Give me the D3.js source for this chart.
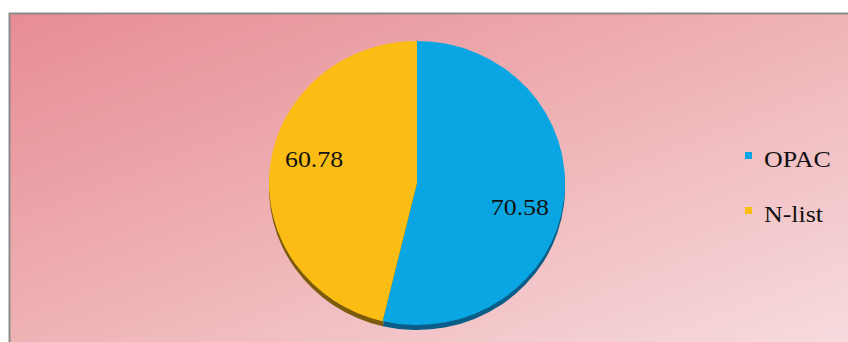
<!DOCTYPE html>
<html>
<head>
<meta charset="utf-8">
<script src="https://cdn.jsdelivr.net/npm/d3@7"></script>
<style>
  body { margin: 0; background: #fff; }
  svg { display: block; }
</style>
</head>
<body>
<svg id="chart" width="848" height="342"></svg>
<script>

// data
var categories = ["OPAC", "N-list"];
var values = [70.58, 60.78];
var sliceColors = ["#0aa6e3", "#fbbd13"];
var edgeColors = ["#0a5d86", "#7d5b0c"];

var width = 848, height = 342;
var svg = d3.select("#chart");
var serif = "Liberation Serif, Times New Roman, Times, serif";

// background gradient of the plot frame
var defs = svg.append("defs");
var bg = defs.append("linearGradient")
    .attr("id", "bggrad")
    .attr("x1", "0").attr("y1", "0")
    .attr("x2", "1").attr("y2", "1");
bg.append("stop").attr("offset", "0%").style("stop-color", "#e78c94");
bg.append("stop").attr("offset", "45%").style("stop-color", "#eeb0b3");
bg.append("stop").attr("offset", "100%").style("stop-color", "#f7dde0");

svg.append("rect")
    .attr("x", 9.5).attr("y", 13.5)
    .attr("width", width).attr("height", height)
    .attr("fill", "url(#bggrad)")
    .attr("stroke", "#8a8a8a")
    .attr("stroke-width", 2);

// pie, slightly squashed like the 3d excel pie
var cx = 417, cy = 183;
var radius = 148;
var squash = 0.96;
var depth = 5;

var pie = d3.pie().sort(null).value(function(d){ return d; });
var arcs = pie(values);
var arc = d3.arc().innerRadius(0).outerRadius(radius);
var labelArc = d3.arc().innerRadius(radius * 0.7).outerRadius(radius * 0.7);

// dark side of the pie (only the bottom rim shows)
svg.append("g")
    .attr("transform", "translate(" + cx + "," + (cy + depth) + ") scale(1," + squash + ")")
    .selectAll("path")
    .data(arcs)
    .enter()
    .append("path")
    .attr("d", arc)
    .attr("fill", function(d, i){ return edgeColors[i]; });

svg.append("g")
    .attr("transform", "translate(" + cx + "," + cy + ") scale(1," + squash + ")")
    .selectAll("path")
    .data(arcs)
    .enter()
    .append("path")
    .attr("d", arc)
    .attr("fill", function(d, i){ return sliceColors[i]; });

// value labels (excel pushes them further off the horizontal than the centroid)
svg.append("g")
    .selectAll("text")
    .data(arcs)
    .enter()
    .append("text")
    .attr("transform", function(d){
      var c = labelArc.centroid(d);
      return "translate(" + (cx + c[0]) + "," + (cy + c[1] * 2 + 8) + ") scale(1.08,1)";
    })
    .attr("text-anchor", "middle")
    .attr("font-family", serif)
    .attr("font-size", 24)
    .attr("fill", "#111")
    .text(function(d){ return d.data.toFixed(2); });

// legend
var legend = svg.append("g")
    .selectAll("g")
    .data(categories)
    .enter()
    .append("g")
    .attr("transform", function(d, i){ return "translate(745," + (152 + i * 55) + ")"; });

legend.append("rect")
    .attr("width", 7).attr("height", 7)
    .attr("fill", function(d, i){ return sliceColors[i]; });

legend.append("text")
    .attr("transform", "translate(19,15) scale(1.08,1)")
    .attr("font-family", serif)
    .attr("font-size", 24)
    .attr("fill", "#111")
    .text(function(d){ return d; });

</script>
</body>
</html>
